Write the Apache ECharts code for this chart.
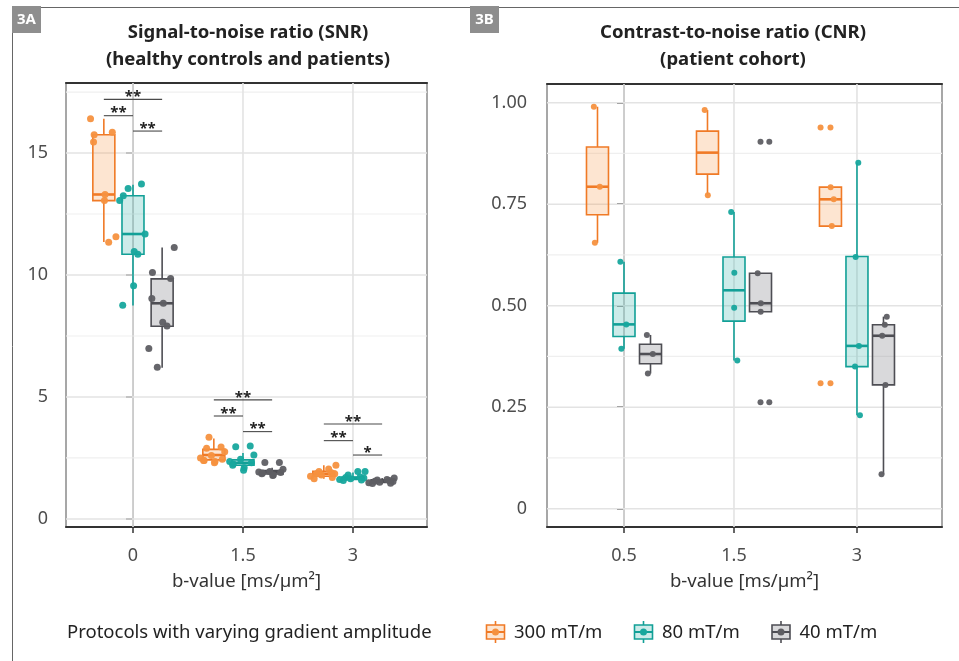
<!DOCTYPE html>
<html><head><meta charset="utf-8">
<script src="https://cdn.jsdelivr.net/npm/echarts@6/dist/echarts.min.js"></script>
<style>html,body{margin:0;padding:0;background:#fff}#c{width:959px;height:661px}</style>
</head><body><div id="c"></div>
<script>
// ---------------- data ----------------
const protocols = ['300 mT/m', '80 mT/m', '40 mT/m'];
const catsA = ['0', '1.5', '3'];
const catsB = ['0.5', '1.5', '3'];
const ticksA = [0, 5, 10, 15];
const minorA = [2.5, 7.5, 12.5, 17.5];
const ticksB = [0, 0.25, 0.5, 0.75, 1];
const minorB = [0.125, 0.375, 0.625, 0.875];

// box statistics per b-value: [lower whisker, Q1, median, Q3, upper whisker]
const boxA_300 = [[11.35, 13.05, 13.3, 15.75, 16.4], [2.31, 2.42, 2.62, 2.85, 3.3], [1.65, 1.75, 1.85, 1.95, 2.2]];
const boxA_80  = [[8.75, 10.85, 11.68, 13.25, 13.7], [2.0, 2.2, 2.3, 2.42, 2.7], [1.58, 1.62, 1.68, 1.72, 1.9]];
const boxA_40  = [[6.2, 7.9, 8.84, 9.84, 11.13], [1.75, 1.84, 1.92, 1.98, 2.1], [1.45, 1.5, 1.55, 1.6, 1.68]];

// individual observations (SNR)
const ptsA_300 = [[16.4, 15.85, 15.75, 15.45, 13.3, 13.05, 11.57, 11.34],
                  [3.35, 2.95, 2.9, 2.75, 2.6, 2.5, 2.45, 2.4, 2.4, 2.35, 2.3],
                  [2.2, 2.05, 1.95, 1.9, 1.85, 1.85, 1.8, 1.75, 1.7, 1.65]];
const ptsA_80  = [[13.05, 13.73, 13.25, 8.76, 10.96, 9.56, 11.68, 10.85, 13.55],
                  [2.99, 2.96, 2.62, 2.45, 2.35, 2.3, 2.25, 2.2, 2.1, 2.0],
                  [1.94, 1.94, 1.8, 1.72, 1.7, 1.68, 1.65, 1.62, 1.6, 1.58]];
const ptsA_40  = [[6.99, 9.86, 10.1, 9.04, 8.84, 8.06, 11.13, 7.91, 6.22],
                  [2.31, 2.31, 2.04, 1.95, 1.92, 1.9, 1.88, 1.85, 1.8, 1.78],
                  [1.68, 1.62, 1.6, 1.58, 1.55, 1.53, 1.5, 1.48, 1.46, 1.45]];

// significance brackets (SNR): heights per b-value, labels
const sigPairs = [[0, 2], [0, 1], [1, 2]];
const sigHeightsA = [[17.2, 16.53, 15.9], [4.88, 4.22, 3.58], [3.89, 3.21, 2.62]];
const sigLabelsA = [['**', '**', '**'], ['**', '**', '**'], ['**', '**', '*']];

// CNR box statistics
const boxB_300 = [[0.655, 0.724, 0.793, 0.891, 0.99], [0.772, 0.824, 0.877, 0.93, 0.982], [0.696, 0.696, 0.762, 0.792, 0.792]];
const boxB_80  = [[0.394, 0.424, 0.454, 0.531, 0.608], [0.365, 0.462, 0.538, 0.62, 0.731], [0.23, 0.35, 0.401, 0.621, 0.852]];
const boxB_40  = [[0.333, 0.357, 0.381, 0.405, 0.428], [0.485, 0.485, 0.506, 0.58, 0.58], [0.085, 0.305, 0.426, 0.453, 0.473]];
// CNR observations within whiskers
const ptsB_300 = [[0.99, 0.793, 0.655], [0.982, 0.772], [0.792, 0.762, 0.696]];
const ptsB_80  = [[0.608, 0.454, 0.394], [0.731, 0.581, 0.495, 0.365], [0.852, 0.62, 0.401, 0.35, 0.23]];
const ptsB_40  = [[0.428, 0.381, 0.333], [0.58, 0.506, 0.485], [0.473, 0.453, 0.426, 0.305, 0.085]];
// CNR outliers
const outB_300 = [[], [], [0.939, 0.309]];
const outB_80  = [[], [], []];
const outB_40  = [[], [0.904, 0.262], []];

// ---------------- layout / style ----------------
const FONT = "'Noto Sans', 'Open Sans', sans-serif";
const LINE = ['#F07A26', '#12A097', '#4E4E54'];
const FILL = ['rgba(245,146,62,0.24)', 'rgba(22,163,154,0.22)', 'rgba(120,120,125,0.28)'];
const PT = ['#F5913F', '#17A79D', '#5E5E63'];
const posA = [0, 1, 2];
const posB = [0, 1, 2.118];
const dodgeA = 0.265, dodgeB = 0.241, bwA = 0.2, bwB = 0.2;
const JIT = [-1.1, 0.7, -0.8, -0.85, 0.1, 0.05, 1.0, 0.4, -0.4, 0.6, -0.6, 0.9, -0.2];
const outCopy = [-0.09, 0.08, 0.08];

function labelFor(pos, cats) {
  return v => { const i = pos.findIndex(p => Math.abs(p - v) < 1e-6); return i >= 0 ? cats[i] : ''; };
}

function gridSeries(major, minor, vpos) {
  const data = major.map(v => [v, 0]).concat(minor.map(v => [v, 1])).concat(vpos.map(v => [v, 2]));
  return {
    type: 'custom', z: 1, silent: true, data,
    renderItem(params, api) {
      const cs = params.coordSys, v = api.value(0), t = api.value(1);
      if (t === 2) {
        const p = api.coord([v, 0]);
        return { type: 'line', shape: { x1: p[0], y1: cs.y, x2: p[0], y2: cs.y + cs.height }, style: { stroke: '#E3E3E3', lineWidth: 1.6 } };
      }
      const p = api.coord([0, v]);
      return { type: 'line', shape: { x1: cs.x, y1: p[1], x2: cs.x + cs.width, y2: p[1] },
        style: { stroke: t === 0 ? '#E3E3E3' : '#EFEFEF', lineWidth: t === 0 ? 1.6 : 1.2 } };
    }
  };
}

function boxSeries(stats, pos, s, dodge, bw) {
  const data = stats.map((st, i) => [pos[i] + (s - 1) * dodge].concat(st));
  return {
    type: 'custom', name: protocols[s], z: 2, silent: true, data,
    renderItem(params, api) {
      const x = api.value(0), lo = api.value(1), q1 = api.value(2), md = api.value(3), q3 = api.value(4), hi = api.value(5);
      const a = api.coord([x - bw / 2, q3]), b = api.coord([x + bw / 2, q1]);
      const t = api.coord([x, hi]), bo = api.coord([x, lo]), m = api.coord([x, md]);
      const ls = { stroke: LINE[s], lineWidth: 1.6 };
      return { type: 'group', children: [
        { type: 'line', shape: { x1: t[0], y1: t[1], x2: t[0], y2: a[1] }, style: ls },
        { type: 'line', shape: { x1: bo[0], y1: b[1], x2: bo[0], y2: bo[1] }, style: ls },
        { type: 'rect', shape: { x: a[0], y: a[1], width: b[0] - a[0], height: b[1] - a[1] }, style: { fill: FILL[s], stroke: LINE[s], lineWidth: 1.6 } },
        { type: 'line', shape: { x1: a[0], y1: m[1], x2: b[0], y2: m[1] }, style: { stroke: LINE[s], lineWidth: 2.6 } }
      ] };
    }
  };
}

function pointSeries(pts, pos, s, dodge, amp, size, outs) {
  const data = [];
  let k = 0;
  pts.forEach((arr, i) => arr.forEach(v => { data.push([pos[i] + (s - 1) * dodge + JIT[k % JIT.length] * amp, v]); k++; }));
  if (outs) outs.forEach((arr, i) => arr.forEach(v => {
    data.push([pos[i] + (s - 1) * dodge, v]);
    data.push([pos[i] + (s - 1) * dodge + outCopy[s], v]);
  }));
  return { type: 'scatter', z: 3, silent: true, symbolSize: size, data,
    itemStyle: { color: PT[s], opacity: 0.95 } };
}

function sigSeries() {
  const data = [], labels = [];
  sigHeightsA.forEach((hs, i) => hs.forEach((h, j) => {
    data.push([posA[i] + (sigPairs[j][0] - 1) * dodgeA, posA[i] + (sigPairs[j][1] - 1) * dodgeA, h]);
    labels.push(sigLabelsA[i][j]);
  }));
  return {
    type: 'custom', xAxisIndex: 0, yAxisIndex: 0, z: 4, silent: true, data,
    renderItem(params, api) {
      const p1 = api.coord([api.value(0), api.value(2)]), p2 = api.coord([api.value(1), api.value(2)]);
      return { type: 'group', children: [
        { type: 'line', shape: { x1: p1[0], y1: p1[1], x2: p2[0], y2: p1[1] }, style: { stroke: '#4a4a4a', lineWidth: 1.1 } },
        { type: 'text', style: { text: labels[params.dataIndex], x: (p1[0] + p2[0]) / 2, y: p1[1] + 5, align: 'center', verticalAlign: 'bottom',
          font: "bold 15px " + FONT, fill: '#222' } }
      ] };
    }
  };
}

const axisText = { color: '#4d4d4d', fontSize: 18, fontFamily: FONT };

function xAxes(grid, pos, cats, min, max) {
  return [
    { gridIndex: grid, type: 'value', min, max,
      axisLine: { show: true, onZero: false, lineStyle: { color: '#333', width: 2 } },
      axisTick: { show: true, customValues: pos, length: 6, lineStyle: { color: '#333', width: 1.5 } },
      axisLabel: Object.assign({ customValues: pos, formatter: labelFor(pos, cats), margin: 20 }, axisText),
      splitLine: { show: false },
      name: 'b-value [ms/µm²]', nameLocation: 'middle', nameGap: 45,
      nameTextStyle: { color: '#333', fontSize: 18.5, fontFamily: FONT } },
    { gridIndex: grid, type: 'value', min, max, position: 'top',
      axisLine: { show: true, onZero: false, lineStyle: { color: '#333', width: 2 } },
      axisTick: { show: false }, axisLabel: { show: false }, splitLine: { show: false } }
  ];
}

function yAxis(grid, min, max, ticks, fmt, margin) {
  return { gridIndex: grid, type: 'value', min, max,
    axisLine: { show: true, lineStyle: { color: '#5a5a5a', width: 1.6 } },
    axisTick: { show: true, customValues: ticks, length: 7, lineStyle: { color: '#333', width: 1.5 } },
    axisLabel: Object.assign({ customValues: ticks, margin, formatter: fmt }, axisText),
    splitLine: { show: false } };
}

const option = {
  animation: false,
  backgroundColor: '#fff',
  grid: [
    { left: 66, top: 83, width: 361, height: 444, show: true, borderColor: '#8a8a8a', borderWidth: 1.5, backgroundColor: '#fff' },
    { left: 547, top: 84, width: 395, height: 443, show: true, borderColor: '#8a8a8a', borderWidth: 1.5, backgroundColor: '#fff' }
  ],
  // axes 0,1 -> grid A (bottom, top); axes 2,3 -> grid B
  xAxis: [].concat(xAxes(0, posA, catsA, -0.609, 2.673), xAxes(1, posB, catsB, -0.7, 2.891)),
  yAxis: [
    yAxis(0, -0.33, 17.87, ticksA, v => String(v), 18),
    yAxis(1, -0.045, 1.046, ticksB, v => v === 0 ? '0' : v.toFixed(2), 20)
  ],
  series: [],
  graphic: []
};
const onA = { xAxisIndex: 0, yAxisIndex: 0 }, onB = { xAxisIndex: 2, yAxisIndex: 1 };
option.series.push(Object.assign(gridSeries(ticksA, minorA, posA), onA));
option.series.push(Object.assign(gridSeries(ticksB, minorB, posB), onB));

const boxesA = [boxA_300, boxA_80, boxA_40], boxesB = [boxB_300, boxB_80, boxB_40];
const pA = [ptsA_300, ptsA_80, ptsA_40], pB = [ptsB_300, ptsB_80, ptsB_40], oB = [outB_300, outB_80, outB_40];
for (let s = 0; s < 3; s++) {
  option.series.push(Object.assign(boxSeries(boxesA[s], posA, s, dodgeA, bwA), onA));
  option.series.push(Object.assign(boxSeries(boxesB[s], posB, s, dodgeB, bwB), onB));
}
for (let s = 0; s < 3; s++) {
  option.series.push(Object.assign(pointSeries(pA[s], posA, s, dodgeA, 0.11, 7), onA));
  option.series.push(Object.assign(pointSeries(pB[s], posB, s, dodgeB, 0.03, 6, oB[s]), onB));
}
option.series.push(sigSeries());

// titles, panel tags, frame, legend
const g = option.graphic;
g.push({ type: 'line', shape: { x1: 41, y1: 7.5, x2: 959, y2: 7.5 }, style: { stroke: '#666', lineWidth: 1 } });
g.push({ type: 'line', shape: { x1: 12.5, y1: 32, x2: 12.5, y2: 661 }, style: { stroke: '#666', lineWidth: 1 } });
[['3A', 12], ['3B', 470]].forEach(([t, x]) => {
  g.push({ type: 'rect', shape: { x, y: 6, width: 29, height: 27 }, style: { fill: '#8e8e8e' } });
  g.push({ type: 'text', x: x + 14.5, y: 19.5, style: { text: t, align: 'center', verticalAlign: 'middle', font: "bold 15px " + FONT, fill: '#fff' } });
});
[[248, 'Signal-to-noise ratio (SNR)', '(healthy controls and patients)'], [733, 'Contrast-to-noise ratio (CNR)', '(patient cohort)']].forEach(([x, a, b]) => {
  g.push({ type: 'text', x, y: 33, style: { text: a, align: 'center', verticalAlign: 'middle', font: "bold 18.5px " + FONT, fill: '#222' } });
  g.push({ type: 'text', x, y: 60, style: { text: b, align: 'center', verticalAlign: 'middle', font: "bold 18.5px " + FONT, fill: '#222' } });
});
g.push({ type: 'text', x: 67, y: 633, style: { text: 'Protocols with varying gradient amplitude', verticalAlign: 'middle', font: "18.5px " + FONT, fill: '#222' } });
[495.5, 643.5, 781].forEach((cx, s) => {
  const cy = 632;
  g.push({ type: 'line', shape: { x1: cx, y1: cy - 11, x2: cx, y2: cy + 11 }, style: { stroke: LINE[s], lineWidth: 1.6 } });
  g.push({ type: 'rect', shape: { x: cx - 9, y: cy - 7, width: 18, height: 14 }, style: { fill: '#fff', stroke: null } });
  g.push({ type: 'rect', shape: { x: cx - 9, y: cy - 7, width: 18, height: 14 }, style: { fill: FILL[s], stroke: LINE[s], lineWidth: 1.6 } });
  g.push({ type: 'line', shape: { x1: cx - 9, y1: cy, x2: cx + 9, y2: cy }, style: { stroke: LINE[s], lineWidth: 2 } });
  g.push({ type: 'circle', shape: { cx, cy, r: 3.5 }, style: { fill: PT[s] } });
  g.push({ type: 'text', x: cx + 18.5, y: cy + 1, style: { text: protocols[s], verticalAlign: 'middle', font: "18.5px " + FONT, fill: '#222' } });
});

const chart = echarts.init(document.getElementById('c'), null, { renderer: 'canvas' });
chart.setOption(option);
</script>
</body></html>
